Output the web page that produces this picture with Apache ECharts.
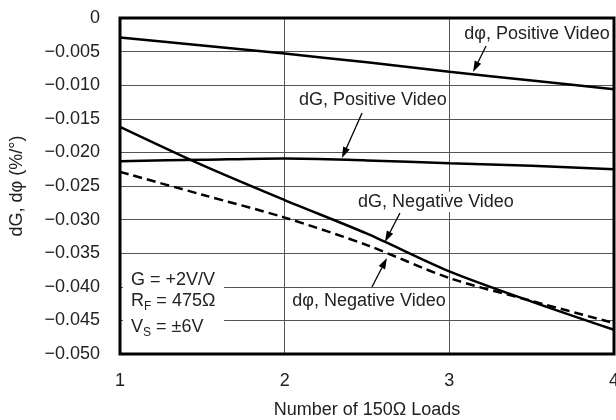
<!DOCTYPE html>
<html><head><meta charset="utf-8">
<script src="https://cdn.jsdelivr.net/npm/echarts@6/dist/echarts.min.js"></script>
<style>html,body{margin:0;padding:0;background:#fff}#c{width:616px;height:420px}</style>
</head><body><div id="c"></div>
<script>
// ---- data ----
const loads = [1, 1.5, 2, 2.5, 3, 3.5, 4];
const dPhiPositive = [-0.0029, -0.0041, -0.0053, -0.0066, -0.0080, -0.0093, -0.0106];
const dGPositive   = [-0.0213, -0.0211, -0.0209, -0.0212, -0.0216, -0.0220, -0.0225];
const dGNegative   = [-0.0162, -0.0219, -0.0271, -0.0321, -0.0377, -0.0422, -0.0464];
const dPhiNegative = [-0.0229, -0.0263, -0.0297, -0.0338, -0.0387, -0.0421, -0.0454];
const xTickValues = [1, 2, 3, 4];
const yMin = -0.05, yMax = 0, yStep = 0.005;
// annotation labels: text, label centre [x,y], arrow tail, arrow head (data units)
const annotationTexts = ['dφ, Positive Video', 'dG, Positive Video', 'dG, Negative Video', 'dφ, Negative Video'];
const annotationCenters = [[3.532, -0.00238], [2.536, -0.0122], [2.919, -0.02738], [2.512, -0.04211]];
const arrowTails = [[3.223, -0.00417], [2.470, -0.01414], [2.700, -0.02902], [2.530, -0.04003]];
const arrowHeads = [[3.144, -0.00804], [2.348, -0.02083], [2.609, -0.03333], [2.621, -0.03571]];
const annotationBg = [false, false, true, true];
const conditionLines = ['{m|G = +2V/V}', '{m|R}{s|F}{m| = 475Ω}', '{m|V}{s|S}{m| = ±6V}'];
const conditionAnchors = [[1.067, -0.03899], [1.067, -0.04211], [1.067, -0.04598]];
const conditionBox = [[1.018, -0.03631], [1.632, -0.0494]];

const FONT = '"Liberation Sans", Arial, Helvetica, sans-serif';
const chart = echarts.init(document.getElementById('c'), null, {renderer: 'canvas'});
const mk = arr => loads.map((x, i) => [x, arr[i]]);
const lineSeries = (name, arr, dashed) => ({
  name, type: 'line', data: mk(arr), showSymbol: false, smooth: 0.3,
  lineStyle: {color: '#000', width: 2.5, type: dashed ? [9, 5] : 'solid'}, z: 5
});
chart.setOption({
  animation: false,
  grid: {left: 120, top: 18, width: 494, height: 336, show: false, containLabel: false, outerBoundsMode: 'none'},
  xAxis: {
    type: 'value', min: xTickValues[0], max: xTickValues[xTickValues.length - 1], interval: 1,
    axisLine: {show: false}, axisTick: {show: false},
    splitLine: {show: true, lineStyle: {color: '#555', width: 1}},
    axisLabel: {fontSize: 18, color: '#222', margin: 18, fontFamily: FONT},
    name: 'Number of 150Ω Loads', nameLocation: 'middle', nameGap: 47,
    nameTextStyle: {fontSize: 18, color: '#222', fontFamily: FONT}
  },
  yAxis: {
    type: 'value', min: yMin, max: yMax, interval: yStep,
    axisLine: {show: false}, axisTick: {show: false},
    splitLine: {show: true, lineStyle: {color: '#555', width: 1}},
    axisLabel: {fontSize: 18, color: '#222', margin: 20, fontFamily: FONT,
      formatter: v => Math.abs(v) < 1e-9 ? '0' : '\u2212' + Math.abs(v).toFixed(3)},
    name: 'dG, dφ (%/°)', nameLocation: 'middle', nameGap: 94, nameRotate: 90,
    nameTextStyle: {fontSize: 18, color: '#222', fontFamily: FONT}
  },
  series: [
    lineSeries('dφ, Positive Video', dPhiPositive, false),
    lineSeries('dG, Positive Video', dGPositive, false),
    lineSeries('dG, Negative Video', dGNegative, false),
    lineSeries('dφ, Negative Video', dPhiNegative, true)
  ]
});

const P = p => chart.convertToPixel({gridIndex: 0}, p);
const graphics = [];
// condition box (white, hides grid lines)
const b0 = P(conditionBox[0]), b1 = P(conditionBox[1]);
graphics.push({type: 'rect', z: 50, shape: {x: b0[0], y: b0[1], width: b1[0] - b0[0], height: b1[1] - b0[1]}, style: {fill: '#fff'}});
conditionLines.forEach((t, i) => {
  const a = P(conditionAnchors[i]);
  graphics.push({type: 'text', z: 60, x: a[0], y: a[1], style: {
    text: t, align: 'left', verticalAlign: 'middle', fill: '#222',
    rich: {
      m: {fontSize: 18, fontFamily: FONT, fill: '#222', verticalAlign: 'middle'},
      s: {fontSize: 12, fontFamily: FONT, fill: '#222', verticalAlign: 'middle', padding: [11, 0, 0, 0]}
    }
  }});
});
// annotations
annotationTexts.forEach((t, i) => {
  const c = P(annotationCenters[i]);
  graphics.push({type: 'text', z: 60, x: c[0], y: c[1], style: {
    text: t, fontSize: 18, fontFamily: FONT, fill: '#222', align: 'center', verticalAlign: 'middle',
    backgroundColor: annotationBg[i] ? '#fff' : null, padding: annotationBg[i] ? [1, 2] : 0
  }});
  const tl = P(arrowTails[i]), hd = P(arrowHeads[i]);
  const dx = hd[0] - tl[0], dy = hd[1] - tl[1], L = Math.hypot(dx, dy);
  const ux = dx / L, uy = dy / L, hl = 11, hw = 3.6;
  const bx = hd[0] - ux * hl, by = hd[1] - uy * hl;
  graphics.push({type: 'line', z: 60, shape: {x1: tl[0], y1: tl[1], x2: bx, y2: by}, style: {stroke: '#000', lineWidth: 1.3}});
  graphics.push({type: 'polygon', z: 60, shape: {points: [[hd[0], hd[1]], [bx - uy * hw, by + ux * hw], [bx + uy * hw, by - ux * hw]]}, style: {fill: '#000'}});
});
// plot frame
const f0 = P([xTickValues[0], yMax]), f1 = P([xTickValues[xTickValues.length - 1], yMin]);
graphics.push({type: 'rect', z: 70, shape: {x: f0[0], y: f0[1], width: f1[0] - f0[0], height: f1[1] - f0[1]}, style: {fill: null, stroke: '#000', lineWidth: 3}});
chart.setOption({graphic: graphics});
</script></body></html>
